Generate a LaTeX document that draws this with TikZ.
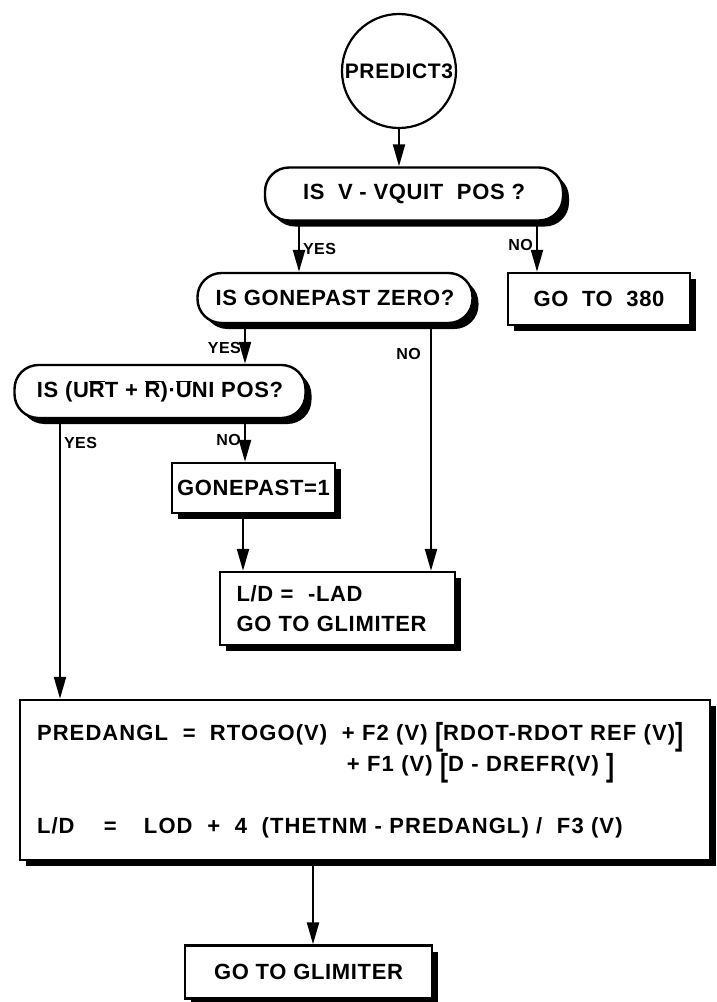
\documentclass[tikz,border=0pt]{standalone}
\usepackage{fontspec}
\usepackage{graphicx}
\setmainfont{Liberation Sans}[LetterSpace=3]
\usetikzlibrary{arrows.meta,positioning,calc,shadows}
\newcommand{\ovl}[1]{$\overline{\mbox{#1}}$}
\newcommand{\tbr}[1]{\raisebox{-0.22em}{\scalebox{1.1}[1.45]{#1}}}
\tikzset{
  fbox/.style={draw=black,line width=2.4pt,fill=white,align=center,inner sep=4pt,
    font=\bfseries\fontsize{22}{30}\selectfont,
    drop shadow={shadow xshift=6pt,shadow yshift=-6pt,opacity=1,fill=black}},
  qbox/.style={fbox,rounded corners=24pt},
  startc/.style={draw=black,line width=2.2pt,fill=white,circle,inner sep=0pt,
    minimum size=114pt,font=\bfseries\fontsize{21}{24}\selectfont},
  flow/.style={-{Triangle[length=22pt,width=12pt]},line width=2.2pt,draw=black},
  lab/.style={font=\bfseries\fontsize{16}{18}\selectfont,inner sep=3pt}
}
\begin{document}
\begin{tikzpicture}[x=1pt,y=-1pt]
  \useasboundingbox (0,0) rectangle (716,1002);
  \node[startc] (start) at (399,71) {PREDICT3};
  \node[qbox,minimum width=298pt,minimum height=53pt] (q1) at (414,194)
    {IS\ \ V - VQUIT\ \ POS ?};
  \node[qbox,minimum width=275pt,minimum height=50pt] (q2) at (335,298)
    {IS GONEPAST ZERO?};
  \node[fbox,minimum width=182pt,minimum height=52pt] (go380) at (599,299)
    {GO\ \ TO\ \ 380};
  \node[qbox,minimum width=291pt,minimum height=53pt] (q3) at (160,391.5)
    {IS (U\ovl{R}T + \ovl{R})·\ovl{U}NI POS?};
  \node[fbox,minimum width=163pt,minimum height=50pt] (gp1) at (253.5,488)
    {GONEPAST=1};
  \node[fbox,minimum width=235pt,minimum height=73pt,text width=202pt,align=left]
    (lad) at (337.5,608.5) {L/D\ = \ -LAD\\GO TO GLIMITER};
  \node[fbox,minimum width=690pt,minimum height=160pt,text width=656pt,align=left,
    font=\bfseries\fontsize{22}{31}\selectfont\addfontfeature{LetterSpace=5}] (pred) at (365,780)
    {\makebox[173pt][l]{PREDANGL\ \ =}RTOGO(V)\ \ + F2 (V) \tbr{[}RDOT-RDOT REF (V)\tbr{]}\\
     \hspace*{310pt}+ F1 (V) \tbr{[}D - DREFR(V)\ \tbr{]}\\[31pt]
     \makebox[107pt][l]{L/D\ \ \ \ =}LOD\ \ + \ 4\ \ (THETNM - PREDANGL)\ / \ F3 (V)};
  \node[fbox,minimum width=247pt,minimum height=53pt] (glim) at (308.5,972)
    {GO TO GLIMITER};

  \draw[flow] (start.south) -- (q1.north -| start.south);
  \draw[flow] (q1.south -| 299,0) -- (q2.north -| 299,0)
    node[lab,right,pos=0.55] (y1) {YES};
  \draw[flow] (q1.south -| 537,0) -- (go380.north -| 537,0)
    node[lab,left,pos=0.47] (n1) {NO};
  \draw[flow] (q2.south -| 245,0) -- (q3.north -| 245,0)
    node[lab,left,pos=0.6] (y2) {YES};
  \draw[flow] (q2.south -| 431,0) -- (lad.north -| 431,0)
    node[lab,left,pos=0.12,xshift=-6pt] (n2) {NO};
  \draw[flow] (q3.south -| 60,0) -- (pred.north -| 60,0)
    node[lab,right,pos=0.085] (y3) {YES};
  \draw[flow] (q3.south -| 245,0) -- (gp1.north -| 245,0)
    node[lab,left,pos=0.49] (n3) {NO};
  \draw[flow] (gp1.south -| 243,0) -- (lad.north -| 243,0);
  \draw[flow] (pred.south -| 313,0) -- (glim.north -| 313,0);
\end{tikzpicture}
\end{document}
